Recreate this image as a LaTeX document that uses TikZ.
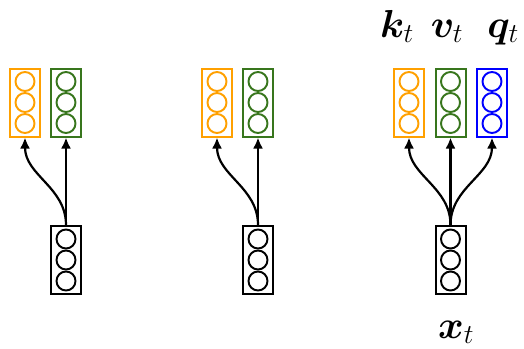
\RequirePackage{fix-cm}
\documentclass[tikz,border=0pt]{standalone}
\usepackage{amsmath,bm}
\usetikzlibrary{arrows.meta}
\definecolor{myorange}{RGB}{255,160,0}
\definecolor{mygreen}{RGB}{56,118,29}
\definecolor{myblue}{RGB}{0,0,255}
\tikzset{
  vecbox/.style={draw=#1, line width=2pt, minimum width=30pt, minimum height=68pt, inner sep=0pt},
  neuron/.style={draw=#1, line width=1.9pt, circle, minimum size=19pt, inner sep=0pt},
  conn/.style={line width=2.2pt, -{Latex[length=11pt,width=10pt]}},
  lbl/.style={font=\fontsize{39}{44}\selectfont, anchor=base, inner sep=0pt}
}
\newcommand{\vecnode}[4]{% name, x, y(center), color
  \node[vecbox=#4] (#1) at (#2,#3) {};
  \node[neuron=#4] (#1c1) at (#2,#3+21) {};
  \node[neuron=#4] (#1c2) at (#2,#3) {};
  \node[neuron=#4] (#1c3) at (#2,#3-21) {};
}
\begin{document}
\begin{tikzpicture}[x=1pt,y=-1pt]
\useasboundingbox (0,0) rectangle (524,348);
% group 1
\vecnode{ka}{25}{102.5}{myorange}
\vecnode{va}{66}{102.5}{mygreen}
\vecnode{xa}{66}{260}{black}
% group 2
\vecnode{kb}{217}{102.5}{myorange}
\vecnode{vb}{258}{102.5}{mygreen}
\vecnode{xb}{258}{260}{black}
% group 3
\vecnode{kc}{409}{102.5}{myorange}
\vecnode{vc}{450.5}{102.5}{mygreen}
\vecnode{qc}{492}{102.5}{myblue}
\vecnode{xc}{450.5}{260}{black}
% arrows
\draw[conn] (xa.north) to[out=90,in=-90] (ka.south);
\draw[conn] (xa.north) -- (va.south);
\draw[conn] (xb.north) to[out=90,in=-90] (kb.south);
\draw[conn] (xb.north) -- (vb.south);
\draw[conn] (xc.north) to[out=90,in=-90] (kc.south);
\draw[conn] (xc.north) -- (vc.south);
\draw[conn] (xc.north) to[out=90,in=-90] (qc.south);
% labels
\node[lbl] (lk) at (397,37) {$\bm{k}_t$};
\node[lbl] (lv) at (447,37) {$\bm{v}_t$};
\node[lbl] (lq) at (503,37) {$\bm{q}_t$};
\node[lbl] (lx) at (456,338) {$\bm{x}_t$};
\end{tikzpicture}
\end{document}
